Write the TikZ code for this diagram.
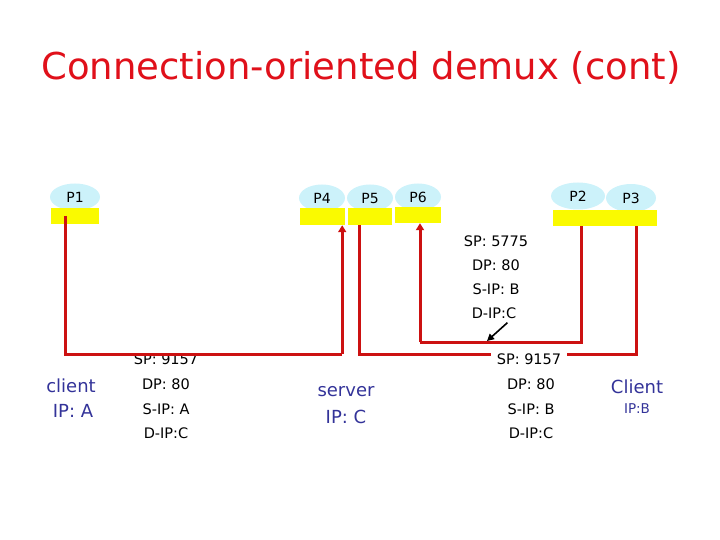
\documentclass[tikz,border=0pt]{standalone}
\usepackage{fontspec}
\setmainfont{DejaVu Sans}
\usetikzlibrary{arrows.meta,calc,shapes.geometric}
\definecolor{procfill}{HTML}{CCF2FA}
\definecolor{sockfill}{HTML}{FAFA00}
\definecolor{linered}{HTML}{CC1111}
\definecolor{titlered}{HTML}{E0101A}
\definecolor{navy}{HTML}{333399}
\tikzset{
  proc/.style={ellipse, fill=procfill, inner sep=0pt, minimum width=48pt, minimum height=27pt, font=\fontsize{14}{16}\selectfont},
  sock/.style={rectangle, fill=sockfill, inner sep=0pt, minimum height=16pt},
  conn/.style={draw=linered, line width=3pt},
  hdr/.style={font=\fontsize{14.5}{16}\selectfont, inner sep=1pt},
  host/.style={text=navy, font=\fontsize{18}{20}\selectfont, inner sep=1pt},
  tip/.style={-{Triangle[width=8pt,length=7pt]}}
}
\begin{document}
\begin{tikzpicture}[x=1pt,y=-1pt]
\useasboundingbox (0,0) rectangle (720,540);
% title
\node[text=titlered, font=\fontsize{37}{40}\selectfont] (title) at (361,68) {Connection-oriented demux (cont)};
% processes
\node[proc, minimum width=50pt] (e1) at (75,197) {P1};
\node[proc, minimum width=46pt] (e4) at (322,198) {P4};
\node[proc, minimum width=46pt] (e5) at (370,198) {P5};
\node[proc, minimum width=46pt] (e6) at (418,197) {P6};
\node[proc, minimum width=54pt] (e2) at (578,196) {P2};
\node[proc, minimum width=50pt, minimum height=28pt] (e3) at (631,198) {P3};
% sockets
\node[sock, minimum width=48pt] (r1) at (75,216) {};
\node[sock, minimum width=45pt, minimum height=17pt] (r4) at (322.5,216.5) {};
\node[sock, minimum width=44pt, minimum height=17pt] (r5) at (370,216.5) {};
\node[sock, minimum width=46pt] (r6) at (418,215) {};
\node[sock, minimum width=57pt] (r2) at (581.5,218) {};
\node[sock, minimum width=47pt] (r3) at (633.5,218) {};
% headers
\node[hdr] (h1) at (496,241) {SP: 5775};
\node[hdr] (h2) at (496,265) {DP: 80};
\node[hdr] (h3) at (496,289) {S-IP: B};
\node[hdr] (h4) at (494,313) {D-IP:C};
\node[hdr] (l1) at (166,359) {SP: 9157};
\node[hdr] (l2) at (166,384) {DP: 80};
\node[hdr] (l3) at (166,409) {S-IP: A};
\node[hdr] (l4) at (166,433) {D-IP:C};
% connectors
\draw[conn] ([xshift=15pt]r1.west) -- ([xshift=15pt]r1.west |- 0,354) -- ([xshift=-3pt]r4.south east |- 0,354) coordinate (k1);
\draw[conn, tip] (k1) -- ([xshift=-3pt]r4.south east);
\draw[conn] ([xshift=12pt]r5.south west) -- ([xshift=12pt]r5.south west |- 0,354) -- ([xshift=2.5pt]r3.south |- 0,354) -- ([xshift=2.5pt]r3.south);
\draw[conn] (r2.south) -- (r2.south |- 0,342) -- ([xshift=2pt]r6.south |- 0,342) coordinate (k3);
\draw[conn, tip] (k3) -- ([xshift=2pt]r6.south);
% right header (white background over the line)
\node[hdr, fill=white, inner xsep=6pt, inner ysep=1pt] (m1) at (529,359) {SP: 9157};
\node[hdr] (m2) at (531,384) {DP: 80};
\node[hdr] (m3) at (531,409) {S-IP: B};
\node[hdr] (m4) at (531,433) {D-IP:C};
% pointer arrow
\coordinate (pt) at (487,341);
\draw[black, line width=1.6pt, -{Triangle[width=7pt,length=7pt]}] ([xshift=-10pt,yshift=-3pt]h4.south east) -- (pt);
% hosts
\node[host] (ca) at (71,386) {client};
\node[host] (cab) at (73,411) {IP: A};
\node[host] (sv) at (346,392) {server};
\node[host] (svb) at (346,417) {IP: C};
\node[host] (cb) at (637,387) {Client};
\node[host, font=\fontsize{13.5}{15}\selectfont] (cbb) at (637,409) {IP:B};
\end{tikzpicture}
\end{document}
